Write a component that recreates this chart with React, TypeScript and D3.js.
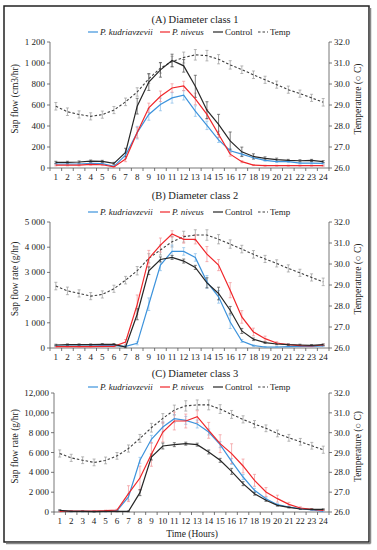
import React from "react";
import * as d3 from "d3";

// hours on the x axis
const hours = d3.range(1, 25);

// (A) Diameter class 1, sap flow (cm3/hr)
const kudA = [38, 38, 38, 44, 41, 16, 123, 337, 510, 605, 668, 693, 542, 406, 268, 164, 132, 98, 72, 60, 60, 47, 47, 44];
const nivA = [28, 28, 28, 35, 31, 10, 85, 337, 573, 683, 762, 781, 658, 510, 321, 132, 60, 28, 22, 22, 22, 22, 22, 22];
const ctlA = [54, 54, 57, 66, 63, 44, 148, 589, 819, 935, 1024, 973, 778, 551, 416, 258, 154, 110, 91, 79, 72, 69, 72, 60];
const tmpA = [28.94, 28.68, 28.55, 28.46, 28.54, 28.76, 29.15, 29.62, 30.25, 30.76, 31.07, 31.26, 31.39, 31.35, 31.18, 30.91, 30.68, 30.44, 30.2, 29.97, 29.73, 29.54, 29.34, 29.13];
const kudErrA = [8, 8, 8, 8, 8, 5, 30, 60, 55, 60, 50, 45, 50, 40, 25, 20, 15, 10, 8, 8, 8, 8, 8, 8];
const nivErrA = [8, 8, 8, 8, 8, 5, 25, 50, 45, 50, 40, 45, 55, 45, 30, 20, 10, 5, 5, 5, 5, 5, 5, 5];
const ctlErrA = [10, 10, 10, 10, 10, 10, 40, 75, 80, 70, 60, 60, 105, 80, 95, 85, 45, 25, 15, 15, 10, 10, 10, 10];
const tmpErrA = [0.18, 0.18, 0.17, 0.17, 0.17, 0.17, 0.18, 0.2, 0.22, 0.24, 0.25, 0.26, 0.25, 0.25, 0.22, 0.2, 0.18, 0.18, 0.17, 0.17, 0.17, 0.17, 0.17, 0.18];

// (B) Diameter class 2, sap flow rate (g/hr)
const kudB = [80, 80, 80, 80, 93, 93, 66, 186, 1737, 3289, 3833, 3833, 3594, 2626, 2029, 1034, 279, 93, 40, 40, 53, 66, 66, 80];
const nivB = [53, 53, 53, 53, 66, 66, 239, 1724, 3554, 4085, 4523, 4310, 4310, 3727, 3289, 2294, 1233, 637, 371, 199, 133, 93, 80, 119];
const ctlB = [119, 133, 133, 133, 146, 146, 40, 1340, 3064, 3514, 3594, 3450, 3200, 2586, 2162, 1499, 676, 345, 212, 159, 133, 119, 106, 133];
const tmpB = [28.95, 28.72, 28.6, 28.47, 28.55, 28.82, 29.23, 29.68, 30.27, 30.67, 31.06, 31.3, 31.38, 31.38, 31.18, 30.95, 30.71, 30.46, 30.24, 30.03, 29.79, 29.58, 29.36, 29.15];
const kudErrB = [30, 30, 30, 30, 30, 30, 30, 60, 250, 220, 250, 150, 150, 250, 250, 260, 60, 30, 20, 20, 20, 20, 20, 20];
const nivErrB = [30, 30, 30, 30, 30, 30, 100, 380, 320, 280, 130, 150, 180, 300, 220, 300, 250, 150, 100, 50, 30, 30, 30, 30];
const ctlErrB = [30, 30, 30, 30, 30, 30, 30, 220, 150, 100, 80, 80, 80, 200, 250, 150, 100, 50, 30, 30, 30, 30, 30, 30];
const tmpErrB = [0.18, 0.18, 0.17, 0.17, 0.17, 0.17, 0.18, 0.2, 0.22, 0.24, 0.25, 0.26, 0.25, 0.25, 0.22, 0.2, 0.18, 0.18, 0.17, 0.17, 0.17, 0.17, 0.17, 0.18];

// (C) Diameter class 3, sap flow rate (g/hr)
const kudC = [134, 67, 67, 67, 67, 134, 1513, 5210, 7328, 8571, 9412, 9244, 8874, 8067, 6790, 5109, 3529, 2185, 1345, 739, 504, 336, 202, 67];
const nivC = [67, 100, 100, 100, 134, 202, 1849, 3429, 5815, 8067, 9176, 9176, 9613, 8235, 6891, 5882, 4639, 3193, 2017, 1345, 773, 403, 269, 168];
const ctlC = [168, 67, 67, 34, 67, 67, 67, 1950, 5546, 6655, 6790, 6890, 6790, 6050, 5210, 4101, 2857, 1849, 1176, 672, 471, 303, 269, 269];
const tmpC = [28.95, 28.73, 28.61, 28.5, 28.6, 28.83, 29.2, 29.71, 30.25, 30.72, 31.14, 31.35, 31.4, 31.4, 31.19, 30.92, 30.67, 30.43, 30.22, 29.96, 29.74, 29.54, 29.34, 29.14];
const kudErrC = [50, 50, 50, 50, 50, 50, 300, 300, 400, 500, 400, 400, 400, 300, 300, 300, 250, 200, 150, 100, 80, 60, 50, 50];
const nivErrC = [50, 50, 50, 50, 50, 80, 800, 1200, 1200, 1000, 900, 700, 600, 800, 900, 1000, 700, 600, 450, 350, 200, 120, 80, 50];
const ctlErrC = [60, 40, 40, 40, 40, 40, 40, 300, 300, 300, 200, 150, 150, 200, 200, 300, 200, 150, 100, 80, 60, 50, 50, 50];
const tmpErrC = [0.18, 0.18, 0.17, 0.17, 0.17, 0.17, 0.18, 0.2, 0.22, 0.24, 0.25, 0.26, 0.25, 0.25, 0.22, 0.2, 0.18, 0.18, 0.17, 0.17, 0.17, 0.17, 0.17, 0.18];

// tick labels as printed in the figure
const ticksA = ["0", "200", "400", "600", "800", "1 000", "1 200"];
const ticksB = ["0", "1 000", "2 000", "3 000", "4 000", "5 000"];
const ticksC = ["0", "2 000", "4 000", "6 000", "8 000", "10,000", "12,000"];
const tempTicks = ["26.0", "27.0", "28.0", "29.0", "30.0", "31.0", "32.0"];

const FONT = "Liberation Serif, Times New Roman, serif";
const BLUE = "#3d93dc";
const BLUE_ERR = "#86bdea";
const RED = "#f0262a";
const RED_ERR = "#f29497";
const BLACK = "#262626";
const BLACK_ERR = "#4a4a4a";
const TEMP = "#3f3f3f";
const TEMP_ERR = "#999";

type PanelProps = {
  title: string;
  yLabel: string;
  yMax: number;
  yTicks: string[];
  kud: number[];
  niv: number[];
  ctl: number[];
  tmp: number[];
  kudErr: number[];
  nivErr: number[];
  ctlErr: number[];
  tmpErr: number[];
  left: number;
  right: number;
  top: number;
  bottom: number;
  titleY: number;
  legendY: number;
};

function ErrorBars({ vals, errs, x, y, color }: any) {
  return (
    <g stroke={color} strokeWidth={0.7}>
      {vals.map((v: number, i: number) => {
        const cx = x(hours[i]);
        const y1 = y(v - errs[i]);
        const y2 = y(v + errs[i]);
        return (
          <g key={i}>
            <line x1={cx} x2={cx} y1={y1} y2={y2} />
            <line x1={cx - 1.5} x2={cx + 1.5} y1={y1} y2={y1} />
            <line x1={cx - 1.5} x2={cx + 1.5} y1={y2} y2={y2} />
          </g>
        );
      })}
    </g>
  );
}

function Panel(p: PanelProps) {
  const xb = d3.scaleBand<number>().domain(hours).range([p.left, p.right]);
  const x = (h: number) => (xb(h) as number) + xb.bandwidth() / 2;
  const y = d3.scaleLinear().domain([0, p.yMax]).range([p.bottom, p.top]);
  const yt = d3.scaleLinear().domain([26, 32]).range([p.bottom, p.top]);
  const step = p.yMax / (p.yTicks.length - 1);

  const line = (vals: number[], sc: any) =>
    d3
      .line<number>()
      .x((_, i) => x(hours[i]))
      .y((d) => sc(d))(vals) as string;

  const legend = [
    { label: "P. kudriavzevii", color: BLUE, italic: true, dash: "", x: 88 },
    { label: "P. niveus", color: RED, italic: true, dash: "", x: 160 },
    { label: "Control", color: BLACK, italic: false, dash: "", x: 213 },
    { label: "Temp", color: TEMP, italic: false, dash: "2.5,2", x: 258 },
  ];

  return (
    <g style={{ fontFamily: FONT }} fill="#222">
      <text x={195} y={p.titleY} textAnchor="middle" fontSize={10.5}>
        {p.title}
      </text>
      {legend.map((l) => (
        <g key={l.label}>
          <line x1={l.x} x2={l.x + 10} y1={p.legendY} y2={p.legendY} stroke={l.color} strokeWidth={1.2} strokeDasharray={l.dash || undefined} />
          <text x={l.x + 12} y={p.legendY + 3} fontSize={9} fontStyle={l.italic ? "italic" : "normal"}>
            {l.label}
          </text>
        </g>
      ))}

      {/* left axis */}
      <line x1={p.left} x2={p.left} y1={p.top} y2={p.bottom} stroke="#555" strokeWidth={0.8} />
      {p.yTicks.map((t, i) => (
        <g key={t}>
          <line x1={p.left - 3} x2={p.left} y1={y(i * step)} y2={y(i * step)} stroke="#555" strokeWidth={0.8} />
          <text x={p.left - 5} y={y(i * step) + 3} textAnchor="end" fontSize={9}>
            {t}
          </text>
        </g>
      ))}
      <text transform={`translate(${18},${(p.top + p.bottom) / 2 - 6}) rotate(-90)`} textAnchor="middle" fontSize={9.5}>
        {p.yLabel}
      </text>

      {/* right axis */}
      <line x1={p.right} x2={p.right} y1={p.top} y2={p.bottom} stroke="#555" strokeWidth={0.8} />
      {tempTicks.map((t, i) => (
        <g key={t}>
          <line x1={p.right} x2={p.right + 3} y1={yt(26 + i)} y2={yt(26 + i)} stroke="#555" strokeWidth={0.8} />
          <text x={p.right + 5} y={yt(26 + i) + 3} fontSize={9}>
            {t}
          </text>
        </g>
      ))}
      <text transform={`translate(${361},${(p.top + p.bottom) / 2 - 6}) rotate(-90)`} textAnchor="middle" fontSize={9.5}>
        Temperature (○ C)
      </text>

      {/* x axis */}
      <line x1={p.left} x2={p.right} y1={p.bottom} y2={p.bottom} stroke="#555" strokeWidth={0.8} />
      {d3.range(25).map((i) => {
        const tx = p.left + i * xb.bandwidth();
        return <line key={i} x1={tx} x2={tx} y1={p.bottom} y2={p.bottom + 3} stroke="#555" strokeWidth={0.8} />;
      })}
      {hours.map((h) => (
        <text key={h} x={x(h)} y={p.bottom + 12} textAnchor="middle" fontSize={9}>
          {h}
        </text>
      ))}

      {/* series */}
      <ErrorBars vals={p.tmp} errs={p.tmpErr} x={x} y={yt} color={TEMP_ERR} />
      <ErrorBars vals={p.kud} errs={p.kudErr} x={x} y={y} color={BLUE_ERR} />
      <ErrorBars vals={p.niv} errs={p.nivErr} x={x} y={y} color={RED_ERR} />
      <ErrorBars vals={p.ctl} errs={p.ctlErr} x={x} y={y} color={BLACK_ERR} />
      <path d={line(p.tmp, yt)} fill="none" stroke={TEMP} strokeWidth={1.1} strokeDasharray="2.5,2" />
      <path d={line(p.kud, y)} fill="none" stroke={BLUE} strokeWidth={1.2} />
      <path d={line(p.niv, y)} fill="none" stroke={RED} strokeWidth={1.2} />
      <path d={line(p.ctl, y)} fill="none" stroke={BLACK} strokeWidth={1.2} />
    </g>
  );
}

export default function App() {
  return (
    <svg width={377} height={550} style={{ position: "absolute", left: 0, top: 0, background: "#fff" }}>
      <rect x={4} y={6} width={365} height={536} fill="#fff" stroke="#222" strokeWidth={1.5} />
      <line x1={370.5} x2={370.5} y1={8} y2={543.5} stroke="#888" strokeWidth={1.5} />
      <line x1={6} x2={370.5} y1={543.5} y2={543.5} stroke="#888" strokeWidth={1.5} />
      <Panel
        title="(A) Diameter class 1"
        yLabel="Sap flow (cm3/hr)"
        yMax={1200}
        yTicks={ticksA}
        kud={kudA}
        niv={nivA}
        ctl={ctlA}
        tmp={tmpA}
        kudErr={kudErrA}
        nivErr={nivErrA}
        ctlErr={ctlErrA}
        tmpErr={tmpErrA}
        left={50}
        right={329}
        top={42}
        bottom={168}
        titleY={23}
        legendY={32}
      />
      <Panel
        title="(B) Diameter class 2"
        yLabel="Sap flow rate (g/hr)"
        yMax={5000}
        yTicks={ticksB}
        kud={kudB}
        niv={nivB}
        ctl={ctlB}
        tmp={tmpB}
        kudErr={kudErrB}
        nivErr={nivErrB}
        ctlErr={ctlErrB}
        tmpErr={tmpErrB}
        left={50}
        right={329}
        top={222}
        bottom={348}
        titleY={199}
        legendY={212}
      />
      <Panel
        title="(C) Diameter class 3"
        yLabel="Sap flow rate (g/hr)"
        yMax={12000}
        yTicks={ticksC}
        kud={kudC}
        niv={nivC}
        ctl={ctlC}
        tmp={tmpC}
        kudErr={kudErrC}
        nivErr={nivErrC}
        ctlErr={ctlErrC}
        tmpErr={tmpErrC}
        left={54}
        right={329}
        top={393}
        bottom={512}
        titleY={377}
        legendY={387}
      />
      <text x={192} y={537} textAnchor="middle" fontSize={9.5} style={{ fontFamily: FONT }} fill="#222">
        Time (Hours)
      </text>
    </svg>
  );
}
